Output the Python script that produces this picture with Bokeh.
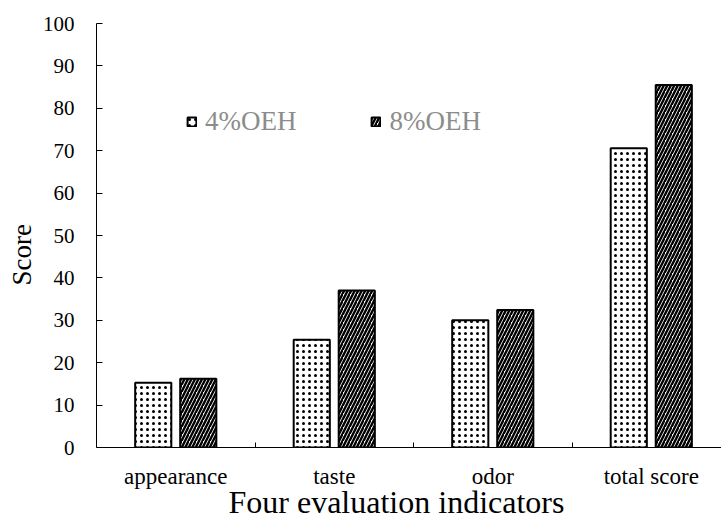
from bokeh.plotting import figure
from bokeh.models import (ColumnDataSource, Range1d, FixedTicker, Legend, LegendItem, Title)
from bokeh.embed import file_html
from bokeh.resources import INLINE

categories = ["appearance", "taste", "odor", "total score"]
series_names = ["4%OEH", "8%OEH"]
oeh4 = [15.3, 25.4, 30.0, 70.6]
oeh8 = [16.2, 37.0, 32.4, 85.5]
y_ticks = [0, 10, 20, 30, 40, 50, 60, 70, 80, 90, 100]
x_title = "Four evaluation indicators"
y_title = "Score"

FONT = "Liberation Serif"

centers = [i + 0.5 for i in range(len(categories))]
off = 0.142
bw = 0.228

src4 = ColumnDataSource(dict(x=[c - off for c in centers], top=oeh4))
src8 = ColumnDataSource(dict(x=[c + off for c in centers], top=oeh8))

p = figure(width=721, height=518, output_backend="svg", toolbar_location=None,
           x_range=Range1d(0, 3.943), y_range=Range1d(0, 100),
           min_border_left=96, min_border_right=0, min_border_top=23, min_border_bottom=71)
p.outline_line_color = None
p.xgrid.visible = False
p.ygrid.visible = False
p.background_fill_color = "white"

r4 = p.vbar(x="x", top="top", width=bw, source=src4, fill_color="white",
            line_color="black", line_width=2,
            hatch_pattern="dot", hatch_color="black", hatch_scale=6, hatch_weight=1.8)
r8 = p.vbar(x="x", top="top", width=bw, source=src8, fill_color="white",
            line_color="black", line_width=2,
            hatch_pattern="right_diagonal_line", hatch_color="black", hatch_scale=7, hatch_weight=2.4)

# y axis
ya = p.yaxis[0]
ya.ticker = FixedTicker(ticks=y_ticks)
ya.major_tick_in = 6
ya.major_tick_out = 0
ya.minor_tick_line_color = None
ya.axis_line_color = "black"
ya.major_label_text_font = FONT
ya.major_label_text_font_size = "21px"
ya.major_label_text_color = "black"
ya.major_label_standoff = 22

# x axis
xa = p.xaxis[0]
xa.ticker = FixedTicker(ticks=centers, minor_ticks=[1, 2, 3])
xa.major_label_overrides = {c: name for c, name in zip(centers, categories)}
xa.major_tick_line_color = None
xa.minor_tick_in = 5
xa.minor_tick_out = 0
xa.minor_tick_line_color = "black"
xa.axis_line_color = "black"
xa.major_label_text_font = FONT
xa.major_label_text_font_size = "23px"
xa.major_label_text_color = "black"
xa.major_label_standoff = 10

# axis titles
p.add_layout(Title(text=x_title, align="left", offset=132, standoff=-20,
                   text_font=FONT, text_font_size="32px", text_font_style="normal",
                   text_color="black"), "below")
p.add_layout(Title(text=y_title, align="left", offset=162, standoff=6,
                   text_font=FONT, text_font_size="27px", text_font_style="normal",
                   text_color="black"), "left")

legend = Legend(items=[LegendItem(label=series_names[0], renderers=[r4]),
                       LegendItem(label=series_names[1], renderers=[r8])],
                orientation="horizontal", location=(90, 310),
                glyph_width=11, glyph_height=11, label_standoff=8, spacing=74,
                label_text_font=FONT, label_text_font_size="27px",
                label_text_color="#8c8c8c", label_height=24,
                padding=0, margin=0, border_line_color=None,
                background_fill_alpha=0)
p.add_layout(legend)

open("out.html", "w").write(file_html(p, INLINE))
